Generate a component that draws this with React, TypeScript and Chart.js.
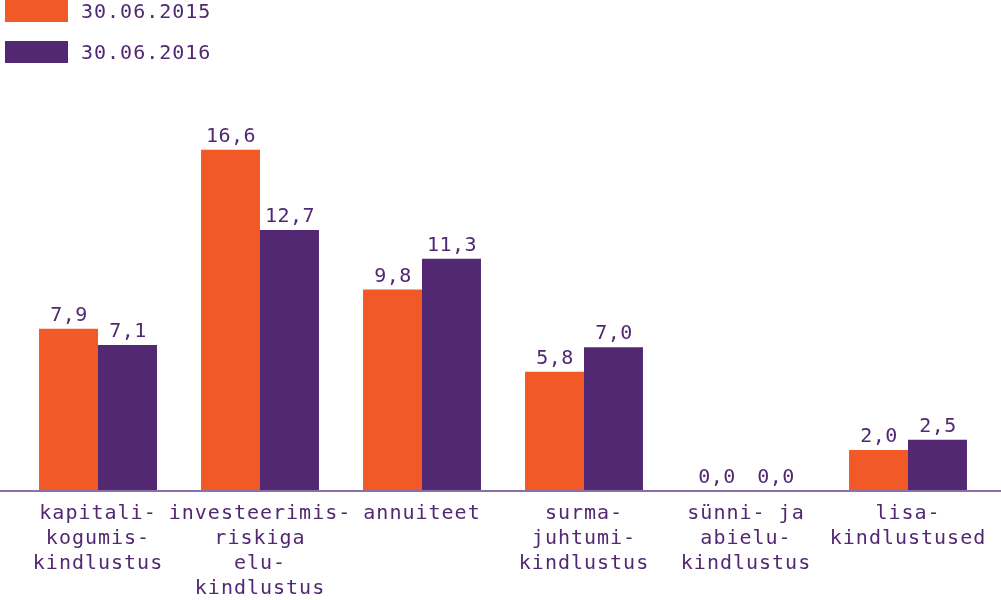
import React, { useEffect, useRef } from "react";
import { Chart, registerables } from "chart.js";

Chart.register(...registerables);

const categories: string[][] = [
  ["kapitali-", "kogumis-", "kindlustus"],
  ["investeerimis-", "riskiga", "elu-", "kindlustus"],
  ["annuiteet"],
  ["surma-", "juhtumi-", "kindlustus"],
  ["sünni- ja", "abielu-", "kindlustus"],
  ["lisa-", "kindlustused"],
];
const series2015: number[] = [7.9, 16.6, 9.8, 5.8, 0.0, 2.0];
const series2016: number[] = [7.1, 12.7, 11.3, 7.0, 0.0, 2.5];
const seriesLabels: string[] = ["30.06.2015", "30.06.2016"];

const ORANGE = "#f15a27";
const PURPLE = "#522872";
const TEXT = "#522872";
const AXIS = "#8a70a6";
const FONT = "'DejaVu Sans Mono', monospace";

export default function App() {
  const ref = useRef<HTMLCanvasElement | null>(null);

  useEffect(() => {
    if (!ref.current) return;
    const spacingPlugin = {
      id: "spacing",
      beforeDraw(chart: any) {
        (chart.ctx as any).letterSpacing = "1px";
      },
    };
    const axisLine = {
      id: "axisLine",
      afterDatasetsDraw(chart: any) {
        const ctx = chart.ctx;
        const y = chart.scales.y.getPixelForValue(0);
        ctx.save();
        ctx.strokeStyle = AXIS;
        ctx.lineWidth = 2;
        ctx.beginPath();
        ctx.moveTo(0, y);
        ctx.lineTo(chart.width, y);
        ctx.stroke();
        ctx.restore();
      },
    };
    const valueLabels = {
      id: "valueLabels",
      afterDatasetsDraw(chart: any) {
        const ctx = chart.ctx;
        ctx.save();
        (ctx as any).letterSpacing = "0.5px";
        ctx.font = `20px ${FONT}`;
        ctx.fillStyle = TEXT;
        ctx.textAlign = "center";
        ctx.textBaseline = "alphabetic";
        chart.data.datasets.forEach((ds: any, di: number) => {
          const meta = chart.getDatasetMeta(di);
          meta.data.forEach((bar: any, i: number) => {
            const v = ds.data[i] as number;
            const txt = v.toFixed(1).replace(".", ",");
            ctx.fillText(txt, bar.x + 0.5, bar.y - 8);
          });
        });
        ctx.restore();
      },
    };
    const chart = new Chart(ref.current, {
      type: "bar",
      data: {
        labels: categories,
        datasets: [
          {
            label: seriesLabels[0],
            data: series2015,
            backgroundColor: ORANGE,
            borderWidth: 0,
            barPercentage: 1,
            categoryPercentage: 0.728,
          },
          {
            label: seriesLabels[1],
            data: series2016,
            backgroundColor: PURPLE,
            borderWidth: 0,
            barPercentage: 1,
            categoryPercentage: 0.728,
          },
        ],
      },
      options: {
        animation: false,
        responsive: false,
        maintainAspectRatio: false,
        layout: { padding: { left: 17, right: 12, top: 80, bottom: 0 } },
        plugins: {
          legend: { display: false },
          tooltip: { enabled: false },
        },
        scales: {
          x: {
            grid: { display: false, drawTicks: false },
            border: { display: false },
            ticks: {
              color: TEXT,
              font: { family: FONT, size: 20, lineHeight: "25px" } as any,
              padding: 10,
              maxRotation: 0,
              autoSkip: false,
            },
            afterFit(scale: any) {
              scale.height = 109;
            },
          },
          y: {
            display: false,
            min: 0,
            max: 20,
          },
        },
      },
      plugins: [spacingPlugin, axisLine, valueLabels],
    });
    return () => chart.destroy();
  }, []);

  const legendItem = (label: string, color: string, top: number) => (
    <div
      style={{
        position: "absolute",
        left: 5,
        top,
        height: 22,
        display: "flex",
        alignItems: "center",
      }}
    >
      <div style={{ width: 63, height: 22, background: color }} />
      <span
        style={{
          marginLeft: 13,
          fontFamily: FONT,
          fontSize: 20,
          letterSpacing: "1px",
          color: TEXT,
          lineHeight: "22px",
        }}
      >
        {label}
      </span>
    </div>
  );

  return (
    <div
      style={{
        position: "fixed",
        left: 0,
        top: 0,
        width: 1001,
        height: 600,
        background: "#fff",
      }}
    >
      <canvas ref={ref} width={1001} height={600} style={{ width: 1001, height: 600, display: "block" }} />
      {legendItem(seriesLabels[0], ORANGE, 0)}
      {legendItem(seriesLabels[1], PURPLE, 41)}
    </div>
  );
}
